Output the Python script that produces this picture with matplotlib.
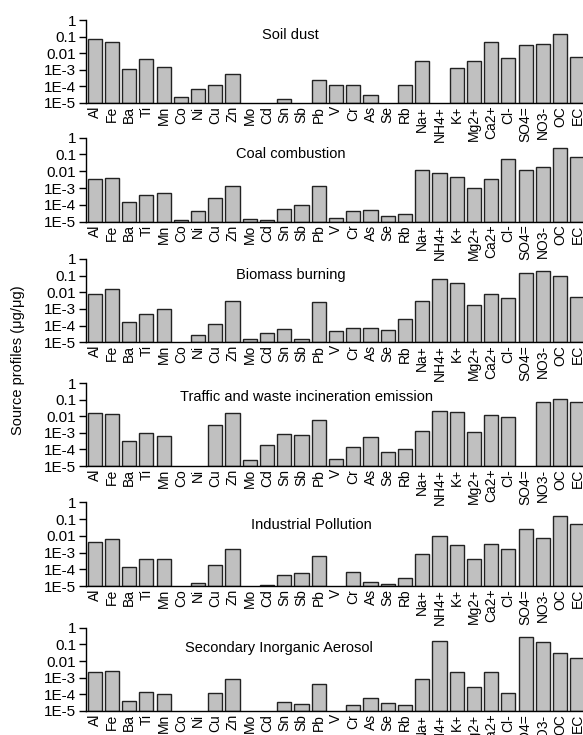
import numpy as np
import matplotlib
matplotlib.use("Agg")
import matplotlib.pyplot as plt

plt.rcParams['font.family'] = ['Liberation Sans', 'DejaVu Sans']

species = ["Al", "Fe", "Ba", "Ti", "Mn", "Co", "Ni", "Cu", "Zn", "Mo", "Cd", "Sn", "Sb",
           "Pb", "V", "Cr", "As", "Se", "Rb", "Na+", "NH4+", "K+", "Mg2+", "Ca2+", "Cl-",
           "SO4=", "NO3-", "OC", "EC"]

nan = np.nan
soil_dust = [0.069, 0.05, 1.1e-3, 4.6e-3, 1.45e-3, 2.3e-5, 6.9e-5, 1.26e-4, 5.5e-4, nan, nan,
             1.7e-5, nan, 2.5e-4, 1.15e-4, 1.2e-4, 3.0e-5, nan, 1.2e-4, 3.6e-3, nan, 1.26e-3,
             3.6e-3, 0.05, 5.5e-3, 0.033, 0.034, 0.138, 5.75e-3]
coal_combustion = [3.5e-3, 4.1e-3, 1.4e-4, 3.6e-4, 5.0e-4, 1.25e-5, 4.5e-5, 2.4e-4, 1.24e-3,
                   1.5e-5, 1.2e-5, 5.4e-5, 9.3e-5, 1.35e-3, 1.7e-5, 4.1e-5, 4.7e-5, 2.1e-5,
                   2.8e-5, 0.011, 7.4e-3, 4.3e-3, 9.5e-4, 3.4e-3, 0.05, 0.0115, 0.0166, 0.234,
                   0.071]
biomass_burning = [7.9e-3, 0.015, 1.6e-4, 5.2e-4, 1.05e-3, nan, 2.9e-5, 1.2e-4, 2.9e-3, 1.5e-5,
                   3.8e-5, 6.0e-5, 1.5e-5, 2.75e-3, 4.6e-5, 6.9e-5, 7.6e-5, 5.8e-5, 2.4e-4,
                   3.2e-3, 0.066, 0.035, 1.66e-3, 7.9e-3, 4.4e-3, 0.138, 0.2, 0.095, 5.0e-3]
traffic_waste = [0.0155, 0.013, 3.1e-4, 9.5e-4, 6.2e-4, nan, nan, 3.0e-3, 0.017, 2.4e-5, 1.9e-4,
                 8.3e-4, 7.9e-4, 6.3e-3, 2.8e-5, 1.5e-4, 5.4e-4, 7.4e-5, 1.1e-4, 1.3e-3, 0.022,
                 0.018, 1.1e-3, 0.0126, 8.8e-3, nan, 0.078, 0.118, 0.071]
industrial = [4.5e-3, 6.1e-3, 1.3e-4, 3.9e-4, 3.9e-4, nan, 1.6e-5, 1.7e-4, 1.7e-3, nan, 1.1e-5,
              4.4e-5, 5.7e-5, 6.5e-4, nan, 6.9e-5, 1.8e-5, 1.3e-5, 2.9e-5, 7.8e-4, 0.01, 2.7e-3,
              4.1e-4, 3.4e-3, 1.55e-3, 0.027, 7.8e-3, 0.152, 0.051]
secondary = [2.1e-3, 2.5e-3, 4.2e-5, 1.45e-4, 1.0e-4, nan, nan, 1.15e-4, 7.9e-4, nan, nan,
             3.3e-5, 2.75e-5, 4.4e-4, nan, 2.3e-5, 6.0e-5, 2.9e-5, 2.2e-5, 8.3e-4, 0.158,
             2.2e-3, 2.75e-4, 2.2e-3, 1.2e-4, 0.275, 0.138, 0.029, 0.0145]

titles = ["Soil dust", "Coal combustion", "Biomass burning",
          "Traffic and waste incineration emission", "Industrial Pollution",
          "Secondary Inorganic Aerosol"]
profiles = [soil_dust, coal_combustion, biomass_burning, traffic_waste, industrial, secondary]
ytick_vals = [1e-5, 1e-4, 1e-3, 1e-2, 1e-1, 1]
ytick_labels = ["1E-5", "1E-4", "1E-3", "0.01", "0.1", "1"]

W, H = 583, 735
fig = plt.figure(figsize=(W / 100, H / 100), dpi=100)

panel_px = [(20, 103), (137.5, 221.7), (259, 342.3), (383.3, 466), (502.3, 586), (627.7, 711)]
title_px = [(290, 35), (291, 154), (291, 275), (306, 397), (311, 525), (279, 648)]
left_px, right_px = 86, 586

x = np.arange(len(species))
for i, (vals, title) in enumerate(zip(profiles, titles)):
    top, bot = panel_px[i]
    ax = fig.add_axes([left_px / W, 1 - bot / H, (right_px - left_px) / W, (bot - top) / H])
    ax.patch.set_alpha(0)
    ax.set_zorder(10 - i)
    v = np.array(vals, dtype=float)
    m = np.isfinite(v)
    ax.bar(x[m], v[m] - 1e-5, bottom=1e-5, width=0.82, color='#c0c0c0',
           edgecolor='#222222', linewidth=1.0)
    ax.set_yscale('log')
    ax.set_ylim(1e-5, 1)
    ax.set_xlim(-0.5, len(species) - 0.5)
    ax.set_yticks(ytick_vals)
    ax.set_yticklabels(ytick_labels, fontsize=11)
    ax.yaxis.set_minor_locator(matplotlib.ticker.LogLocator(base=10, subs=np.arange(2, 10)))
    ax.yaxis.set_minor_formatter(matplotlib.ticker.NullFormatter())
    ax.tick_params(axis='y', which='major', direction='out', length=5, width=1, pad=2)
    ax.tick_params(axis='y', which='minor', direction='out', length=3, width=0.8)
    ax.set_xticks(x)
    ax.set_xticklabels(species, rotation=90, fontsize=10)
    ax.tick_params(axis='x', length=0, pad=2)
    for s in ['top', 'right']:
        ax.spines[s].set_visible(False)
    ax.spines['left'].set_linewidth(1)
    ax.spines['bottom'].set_linewidth(1)
    tx, ty = title_px[i]
    fig.text(tx / W, 1 - ty / H, title, ha='center', va='center', fontsize=10.5)

fig.text(18 / W, 1 - 360 / H, "Source profiles (\u03bcg/\u03bcg)", rotation=90,
         ha='center', va='center', fontsize=10.5)

fig.savefig("out.png", dpi=100)
